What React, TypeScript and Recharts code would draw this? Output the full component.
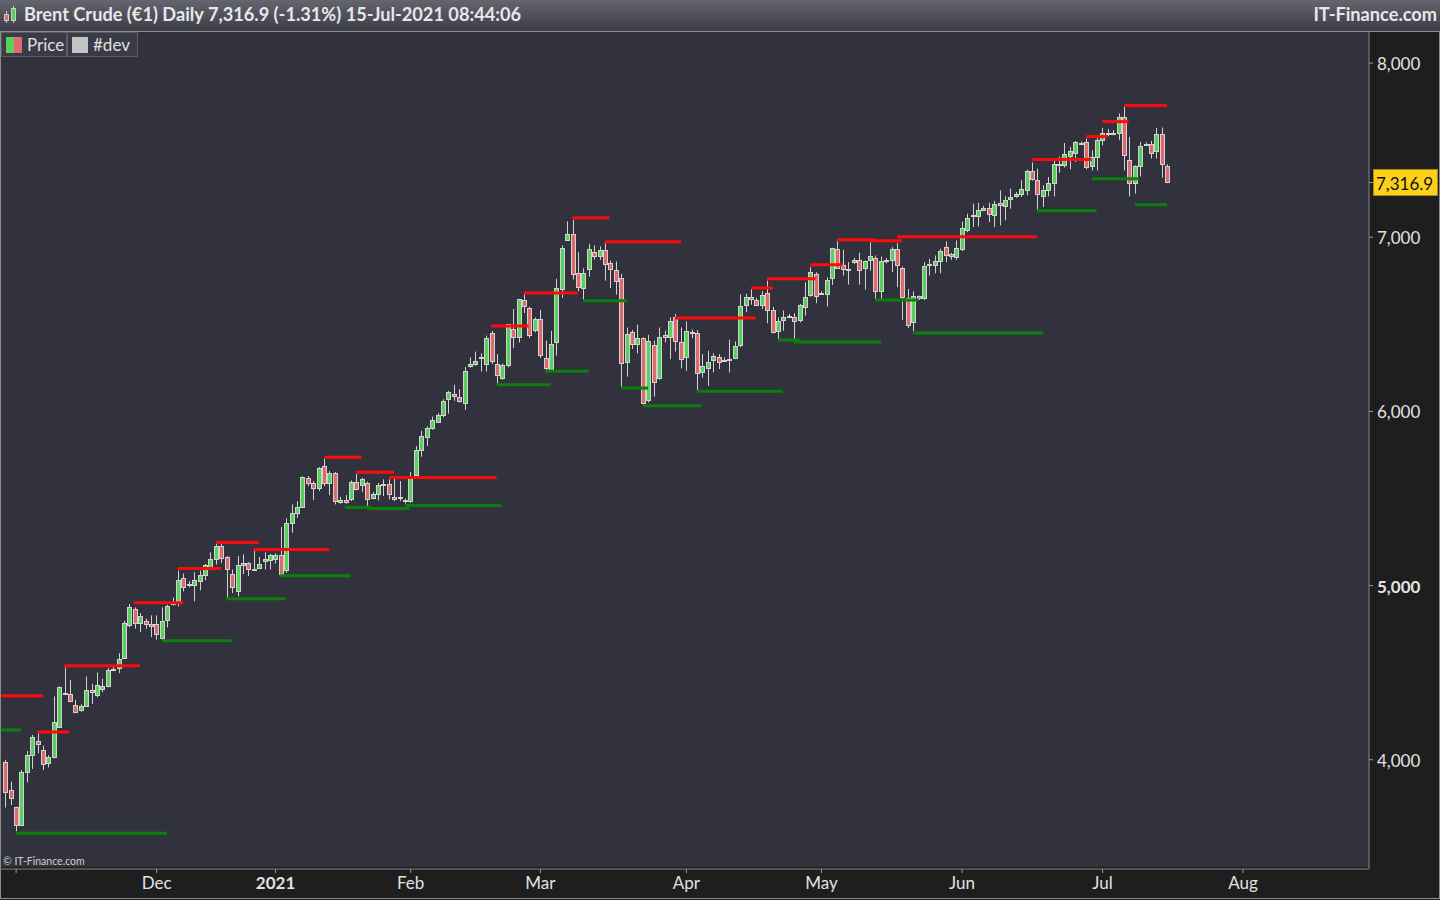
import { ComposedChart, Bar, XAxis, YAxis, ReferenceLine } from 'recharts'

// daily bars, 29-Oct-2020 .. 15-Jul-2021 (sunday sessions included)
const OPEN = [
  3989, 3826, 3726, 3624, 3931, 4027, 4110, 4056, 3980, 4018,
  4186, 4385, 4378, 4315, 4286, 4309, 4401, 4373, 4407, 4424,
  4517, 4526, 4583, 4775, 4868, 4785, 4794, 4781, 4781, 4698,
  4802, 4893, 4910, 5044, 5006, 5006, 5025, 5063, 5107, 5150,
  5226, 5165, 5069, 4967, 5117, 5127, 5095, 5101, 5140, 5149,
  5150, 5174, 5092, 5360, 5414, 5452, 5616, 5587, 5562, 5686,
  5587, 5645, 5480, 5490, 5498, 5594, 5575, 5587, 5504, 5523,
  5580, 5581, 5510, 5503, 5492, 5485, 5633, 5778, 5853, 5907,
  5942, 5978, 6070, 6099, 6083, 6051, 6258, 6272, 6306, 6272,
  6450, 6272, 6191, 6266, 6473, 6429, 6642, 6594, 6468, 6531,
  6306, 6237, 6400, 6703, 6986, 7020, 6793, 6709, 6818, 6918,
  6895, 6924, 6853, 6813, 6767, 6281, 6454, 6387, 6421, 6065,
  6381, 6189, 6439, 6425, 6540, 6396, 6313, 6452, 6450, 6224,
  6252, 6295, 6314, 6293, 6296, 6304, 6381, 6613, 6659, 6642,
  6611, 6682, 6583, 6463, 6525, 6543, 6540, 6525, 6602, 6669,
  6790, 6678, 6675, 6767, 6933, 6842, 6813, 6857, 6872, 6822,
  6870, 6882, 6690, 6863, 6870, 6933, 6824, 6649, 6515, 6661,
  6652, 6841, 6840, 6866, 6943, 6901, 6889, 6933, 7043, 7120,
  7120, 7158, 7170, 7130, 7196, 7179, 7217, 7235, 7250, 7269,
  7380, 7331, 7236, 7273, 7311, 7414, 7417, 7467, 7486, 7538,
  7544, 7409, 7461, 7557, 7596, 7598, 7601, 7688, 7446, 7313,
  7407, 7536, 7538, 7494, 7590, 7409,
]
const HIGH = [
  4000, 3874, 3730, 3941, 4050, 4143, 4152, 4081, 4027, 4363,
  4420, 4530, 4459, 4344, 4318, 4478, 4436, 4501, 4465, 4526,
  4535, 4612, 4798, 4894, 4875, 4842, 4810, 4829, 4829, 4875,
  4891, 4931, 5086, 5069, 5025, 5077, 5086, 5124, 5191, 5239,
  5239, 5170, 5092, 5170, 5178, 5135, 5198, 5165, 5191, 5182,
  5185, 5336, 5386, 5466, 5485, 5627, 5629, 5600, 5681, 5728,
  5658, 5652, 5510, 5520, 5604, 5642, 5620, 5597, 5537, 5590,
  5610, 5610, 5613, 5600, 5500, 5652, 5801, 5888, 5914, 5970,
  5990, 6070, 6118, 6153, 6128, 6256, 6310, 6343, 6333, 6435,
  6463, 6329, 6275, 6502, 6588, 6646, 6671, 6601, 6540, 6582,
  6406, 6463, 6761, 6953, 7091, 7100, 6914, 6822, 6962, 6953,
  6947, 6966, 6866, 6860, 6790, 6482, 6467, 6498, 6425, 6440,
  6406, 6482, 6463, 6540, 6560, 6482, 6517, 6470, 6467, 6329,
  6348, 6333, 6329, 6310, 6412, 6402, 6671, 6675, 6703, 6652,
  6690, 6751, 6601, 6540, 6579, 6560, 6563, 6617, 6742, 6828,
  6799, 6690, 6770, 6939, 6977, 6928, 6857, 6882, 6911, 6866,
  6972, 6895, 6889, 6880, 6943, 6966, 6832, 6703, 6688, 6665,
  6857, 6876, 6895, 6934, 6976, 6910, 6981, 7090, 7135, 7193,
  7198, 7180, 7198, 7208, 7269, 7235, 7279, 7260, 7327, 7388,
  7430, 7394, 7298, 7346, 7452, 7463, 7541, 7519, 7553, 7550,
  7567, 7499, 7586, 7628, 7622, 7615, 7711, 7749, 7576, 7413,
  7547, 7545, 7553, 7628, 7630, 7419,
]
const LOW = [
  3726, 3740, 3590, 3624, 3870, 3947, 4037, 3941, 3956, 4008,
  4181, 4373, 4334, 4267, 4276, 4305, 4321, 4359, 4388, 4416,
  4508, 4497, 4580, 4760, 4752, 4733, 4752, 4704, 4689, 4689,
  4760, 4885, 4881, 4967, 4990, 4910, 4973, 5030, 5088, 5121,
  5130, 4932, 4957, 4938, 5066, 5054, 5083, 5098, 5092, 5092,
  5127, 5067, 5073, 5303, 5389, 5452, 5571, 5491, 5543, 5571,
  5519, 5466, 5470, 5470, 5485, 5547, 5539, 5456, 5495, 5489,
  5514, 5495, 5485, 5485, 5470, 5475, 5619, 5740, 5801, 5894,
  5936, 5965, 5987, 6061, 6051, 6009, 6252, 6262, 6229, 6229,
  6272, 6160, 6182, 6253, 6364, 6396, 6565, 6421, 6454, 6306,
  6233, 6233, 6320, 6652, 6981, 6757, 6690, 6640, 6774, 6872,
  6870, 6751, 6707, 6670, 6141, 6199, 6358, 6333, 6038, 6051,
  6085, 6181, 6396, 6300, 6344, 6247, 6233, 6420, 6122, 6195,
  6147, 6224, 6243, 6285, 6224, 6300, 6368, 6569, 6613, 6607,
  6588, 6506, 6448, 6416, 6463, 6535, 6416, 6511, 6550, 6659,
  6621, 6673, 6602, 6726, 6818, 6780, 6728, 6847, 6728, 6700,
  6809, 6646, 6646, 6850, 6799, 6713, 6525, 6479, 6460, 6640,
  6640, 6780, 6793, 6793, 6857, 6870, 6870, 6920, 7029, 7058,
  7062, 7150, 7087, 7058, 7068, 7097, 7164, 7227, 7231, 7241,
  7325, 7158, 7173, 7235, 7235, 7370, 7400, 7390, 7432, 7535,
  7390, 7384, 7384, 7528, 7580, 7585, 7557, 7384, 7235, 7250,
  7349, 7530, 7452, 7452, 7342, 7311,
]
const CLOSE = [
  3812, 3783, 3624, 3927, 4027, 4133, 4091, 3973, 4014, 4219,
  4415, 4380, 4338, 4273, 4309, 4401, 4390, 4430, 4424, 4516,
  4521, 4580, 4785, 4877, 4785, 4827, 4781, 4770, 4721, 4794,
  4885, 4898, 5034, 4992, 5010, 5034, 5063, 5117, 5155, 5230,
  5159, 5093, 4990, 5117, 5132, 5098, 5097, 5124, 5151, 5174,
  5174, 5069, 5357, 5414, 5449, 5621, 5587, 5562, 5673, 5587,
  5645, 5483, 5490, 5478, 5594, 5556, 5610, 5495, 5523, 5577,
  5582, 5527, 5498, 5506, 5494, 5619, 5778, 5859, 5905, 5949,
  5978, 6061, 6112, 6088, 6061, 6233, 6272, 6291, 6310, 6421,
  6291, 6208, 6266, 6502, 6429, 6646, 6607, 6440, 6531, 6324,
  6249, 6387, 6707, 6939, 7020, 6790, 6717, 6793, 6933, 6895,
  6924, 6847, 6818, 6751, 6278, 6444, 6387, 6421, 6047, 6402,
  6166, 6429, 6429, 6521, 6406, 6300, 6463, 6457, 6220, 6262,
  6285, 6320, 6281, 6297, 6299, 6377, 6607, 6659, 6646, 6611,
  6671, 6583, 6458, 6521, 6540, 6547, 6517, 6611, 6655, 6799,
  6665, 6682, 6755, 6939, 6822, 6819, 6817, 6872, 6813, 6861,
  6895, 6690, 6866, 6867, 6933, 6842, 6659, 6496, 6661, 6652,
  6834, 6845, 6866, 6920, 6899, 6890, 6939, 7054, 7112, 7130,
  7154, 7170, 7135, 7193, 7187, 7216, 7233, 7250, 7279, 7380,
  7337, 7250, 7269, 7313, 7419, 7418, 7480, 7494, 7544, 7542,
  7403, 7461, 7557, 7599, 7600, 7601, 7688, 7471, 7313, 7409,
  7524, 7538, 7486, 7595, 7419, 7316.9,
]

// #dev levels: [from bar, to bar, price]
const RESISTANCE: [number, number, number][] = [
  [-0.79, 7, 4367], [5.9, 11.8, 4160], [10.9, 24.9, 4540], [23.8, 32.9, 4902],
  [31.9, 39.9, 5098], [39, 46.9, 5247], [45.9, 59.9, 5207], [59, 65.9, 5737],
  [64.9, 71.9, 5650], [71, 90.9, 5621], [89.9, 96.8, 6490], [95.9, 105.9, 6680],
  [104.9, 111.8, 7112], [110.9, 125, 6974], [123.9, 138.8, 6536], [138, 142, 6709],
  [140.9, 149.9, 6761], [148.9, 154.9, 6842], [153.9, 160.9, 6985], [159.9, 165.9, 6980],
  [165, 190.9, 7003], [189.9, 201, 7446], [200, 203.9, 7578], [202.9, 207.8, 7664],
  [207, 214.9, 7757],
]
const SUPPORT: [number, number, number][] = [
  [-0.79, 2.9, 4171], [2, 29.9, 3578], [29, 41.9, 4683], [40.8, 51.9, 4925],
  [50.8, 63.9, 5057], [62.8, 67.8, 5449], [67, 74.8, 5443], [74, 91.8, 5460],
  [90.9, 100.9, 6153], [99.9, 107.9, 6231], [106.9, 115, 6636], [113.9, 118.9, 6134],
  [118, 128.8, 6032], [128, 143.8, 6116], [143, 147, 6410], [145.9, 162, 6398],
  [160.9, 169, 6640], [167.9, 192, 6450], [190.8, 201.9, 7152], [201, 209.8, 7336],
  [209, 214.9, 7187],
]

const MONTH_TICKS = [2, 28, 50, 75, 99, 126, 151, 177, 203, 229]
const MONTH_LABELS = ['', 'Dec', '2021', 'Feb', 'Mar', 'Apr', 'May', 'Jun', 'Jul', 'Aug']
const BOLD_MONTHS = ['2021']
const PRICE_TICKS = [4000, 5000, 6000, 7000, 8000]
const BOLD_PRICES = [5000]
const LAST_PRICE = 7316.9

const X_DOMAIN: [number, number] = [-0.796, 252.3]
const Y_DOMAIN: [number, number] = [3372.7, 8178.4]

const GREEN = '#58d25c'
const RED = '#e06a6a'
const EDGE = '#d2d2d2'
const FONT = 'Lato, "Open Sans", sans-serif'

const candles = OPEN.map((o, i) => ({
  i,
  o,
  h: HIGH[i],
  l: LOW[i],
  c: CLOSE[i],
  range: [LOW[i], HIGH[i]],
}))

function Candle(props: any) {
  const { x, y, width, height, payload } = props
  const { o, h, l, c } = payload
  const top = Math.min(y, y + height)
  const hgt = Math.abs(height)
  const cx = Math.round(x + width / 2) + 0.5
  const py = (v: number) => top + ((h - v) / (h - l || 1)) * hgt
  const bTop = Math.round(py(Math.max(o, c))) + 0.5
  const bBot = Math.round(py(Math.min(o, c))) + 0.5
  return (
    <g>
      <line x1={cx} x2={cx} y1={top} y2={top + hgt} stroke={EDGE} strokeWidth={1} />
      <rect
        x={cx - 2}
        y={bTop}
        width={4}
        height={Math.max(bBot - bTop, 1)}
        fill={c >= o ? GREEN : RED}
        stroke={EDGE}
        strokeWidth={1}
      />
    </g>
  )
}

const PriceTick = (props: any) => {
  const { x, y, payload } = props
  return (
    <text
      x={x}
      y={y}
      dy={7}
      fill="#e2e2e2"
      fontSize={17}
      fontFamily={FONT}
      fontWeight={BOLD_PRICES.includes(payload.value) ? 700 : 400}
      textAnchor="start"
    >
      {payload.value.toLocaleString('en-US')}
    </text>
  )
}

const MonthTick = (props: any) => {
  const { x, y, payload } = props
  const label = MONTH_LABELS[MONTH_TICKS.indexOf(payload.value)] ?? ''
  return (
    <text
      x={x}
      y={y}
      dy={14}
      fill="#e2e2e2"
      fontSize={17}
      fontFamily={FONT}
      fontWeight={BOLD_MONTHS.includes(label) ? 700 : 400}
      textAnchor="middle"
    >
      {label}
    </text>
  )
}

const PriceTag = (props: any) => {
  const vb = props.viewBox
  const x = vb.x + vb.width
  const y = Math.round(vb.y) + 0.5
  return (
    <g>
      <line x1={x} x2={x + 4} y1={y} y2={y} stroke="#9a9a9a" />
      <rect x={x + 4.5} y={y - 13} width={64} height={26} fill="#fbd11c" stroke="#a88a10" />
      <text x={x + 7} y={y + 7} fontSize={17} fontFamily={FONT} fill="#111">
        {LAST_PRICE.toLocaleString('en-US', { minimumFractionDigits: 1 })}
      </text>
    </g>
  )
}

const abs = (s: any) => ({ position: 'absolute' as const, ...s })

export default function App() {
  return (
    <div style={abs({ left: 0, top: 0, width: 1440, height: 900, background: '#1e1e1e', overflow: 'hidden', fontFamily: FONT })}>
      {/* title bar */}
      <div style={abs({ left: 0, top: 0, width: 1440, height: 31, background: 'linear-gradient(#65656f, #3c3c48)', borderBottom: '1px solid #8c8c8c' })}>
        <div style={abs({ left: 6, top: 11, width: 1, height: 12, background: '#ccc' })} />
        <div style={abs({ left: 4, top: 14, width: 5, height: 7, background: RED, border: '1px solid #ccc', boxSizing: 'border-box' })} />
        <div style={abs({ left: 13, top: 6, width: 1, height: 17, background: '#ccc' })} />
        <div style={abs({ left: 11, top: 8, width: 5, height: 13, background: GREEN, border: '1px solid #ccc', boxSizing: 'border-box' })} />
        <div style={abs({ left: 24, top: 3, color: '#e8e8e8', fontSize: 18.2, fontWeight: 700, whiteSpace: 'nowrap' })}>
          Brent Crude (€1) Daily 7,316.9 (-1.31%) 15-Jul-2021 08:44:06
        </div>
        <div style={abs({ right: 3, top: 3, color: '#e8e8e8', fontSize: 18.2, fontWeight: 700, whiteSpace: 'nowrap' })}>
          IT-Finance.com
        </div>
      </div>

      {/* plot background + frame */}
      <div style={abs({ left: 1, top: 32, width: 1368, height: 835, background: '#32323e' })} />
      <div style={abs({ left: 0, top: 32, width: 1, height: 867, background: '#8a8a8a' })} />
      <div style={abs({ left: 1439, top: 32, width: 1, height: 867, background: '#8a8a8a' })} />
      <div style={abs({ left: 0, top: 898, width: 1440, height: 1, background: '#8a8a8a' })} />

      <div style={abs({ left: 0, top: 0 })}>
        <ComposedChart width={1440} height={900} data={candles} margin={{ top: 32, right: 1, bottom: 1, left: 1 }}>
          <XAxis
            dataKey="i"
            type="number"
            domain={X_DOMAIN}
            allowDataOverflow
            ticks={MONTH_TICKS}
            interval={0}
            height={30}
            tickSize={4}
            tickMargin={2}
            axisLine={{ stroke: '#858585' }}
            tickLine={{ stroke: '#9a9a9a' }}
            tick={<MonthTick />}
          />
          <YAxis
            orientation="right"
            type="number"
            domain={Y_DOMAIN}
            allowDataOverflow
            ticks={PRICE_TICKS}
            interval={0}
            width={70}
            tickSize={4}
            tickMargin={4}
            axisLine={{ stroke: '#858585' }}
            tickLine={{ stroke: '#9a9a9a' }}
            tick={<PriceTick />}
          />
          <Bar dataKey="range" barSize={5} shape={(p: any) => <Candle {...p} />} isAnimationActive={false} />
          {RESISTANCE.map(([a, b, v], k) => (
            <ReferenceLine key={'r' + k} segment={[{ x: a, y: v }, { x: b, y: v }]} stroke="#ff0a0a" strokeWidth={3} />
          ))}
          {SUPPORT.map(([a, b, v], k) => (
            <ReferenceLine key={'s' + k} segment={[{ x: a, y: v }, { x: b, y: v }]} stroke="#0a820a" strokeWidth={3} />
          ))}
          <ReferenceLine y={LAST_PRICE} stroke="none" label={<PriceTag />} />
        </ComposedChart>
      </div>

      {/* legend */}
      <div style={abs({ left: 1, top: 32, width: 66, height: 25, background: '#3b3b47', border: '1px solid #5c5c66', boxSizing: 'border-box' })}>
        <div style={abs({ left: 4, top: 4, width: 8, height: 16, background: GREEN })} />
        <div style={abs({ left: 12, top: 4, width: 8, height: 16, background: RED })} />
        <div style={abs({ left: 25, top: 1, color: '#e0e0e0', fontSize: 17 })}>Price</div>
      </div>
      <div style={abs({ left: 67, top: 32, width: 71, height: 25, background: '#3b3b47', border: '1px solid #5c5c66', boxSizing: 'border-box' })}>
        <div style={abs({ left: 4, top: 4, width: 16, height: 16, background: '#c4c4c4' })} />
        <div style={abs({ left: 25, top: 1, color: '#e0e0e0', fontSize: 17 })}>#dev</div>
      </div>

      <div style={abs({ left: 3, top: 855, color: '#d0d0d0', fontSize: 10.5, whiteSpace: 'nowrap' })}>© IT-Finance.com</div>
    </div>
  )
}
